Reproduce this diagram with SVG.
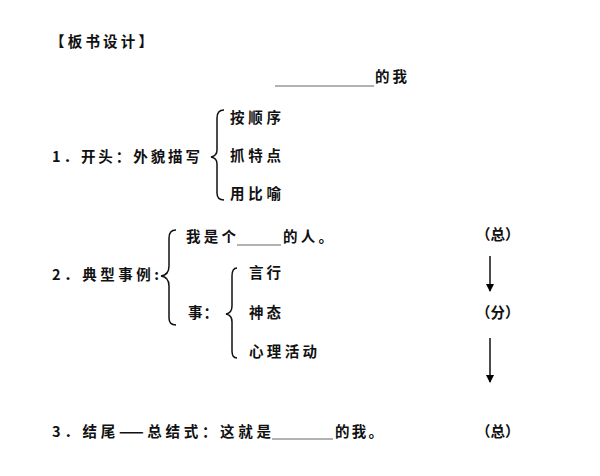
<svg xmlns="http://www.w3.org/2000/svg" width="600" height="476" viewBox="0 0 600 476">
<style>
text{font-family:"Noto Sans CJK SC","Liberation Sans",sans-serif;font-size:14.5px;font-weight:bold;fill:#111}
.b{fill:none;stroke:#111;stroke-width:1.5}
.u{stroke:#666;stroke-width:1.2}
</style>
<rect width="600" height="476" fill="#fff"/>
<g id="title"><text x="50" y="47" textLength="103">【板书设计】</text></g>
<g id="top"><line class="u" x1="275" y1="86" x2="374" y2="86"/><text x="375" y="82" textLength="32">的我</text></g>
<g id="n1"><text x="52" y="162" textLength="148">1．开头：外貌描写</text>
<path class="b" d="M224,110 Q217,110 217,118 L217,150 Q217,156 211,157 Q217,158 217,164 L217,193 Q217,200 224,200"/>
<text x="230" y="123" textLength="51">按顺序</text><text x="230" y="161" textLength="51">抓特点</text><text x="230" y="199" textLength="51">用比喻</text></g>
<g id="n2"><text x="52" y="280" textLength="107">2．典型事例:</text>
<path class="b" d="M176,230 Q169,230 169,238 L169,266 Q169,275 161,276 Q169,277 169,286 L169,318 Q169,325 176,325"/>
<text x="186" y="242" textLength="50">我是个</text><line class="u" x1="237" y1="245" x2="281" y2="245"/><text x="283" y="242" textLength="50">的人。</text>
<text x="188" y="318" textLength="30">事：</text>
<path class="b" d="M237,268 Q232,268 232,276 L232,306 Q232,313 226,314 Q232,315 232,322 L232,351 Q232,358 237,358"/>
<text x="249" y="278" textLength="32">言行</text><text x="249" y="318" textLength="32">神态</text><text x="249" y="357" textLength="68">心理活动</text></g>
<g id="n3"><text x="52" y="437" textLength="219">3．结尾——总结式：这就是</text><line class="u" x1="272" y1="439" x2="333" y2="439"/><text x="335" y="437" textLength="48">的我。</text></g>
<g id="side"><text x="476" y="240">（总）</text><text x="476" y="318">（分）</text><text x="476" y="437">（总）</text></g>
<g id="connectors"><line class="b" x1="490" y1="256" x2="490" y2="291"/><path d="M486,284 L490,292 L494,284 Z"/>
<line class="b" x1="490" y1="338" x2="490" y2="382"/><path d="M486,375 L490,383 L494,375 Z"/></g>
</svg>
